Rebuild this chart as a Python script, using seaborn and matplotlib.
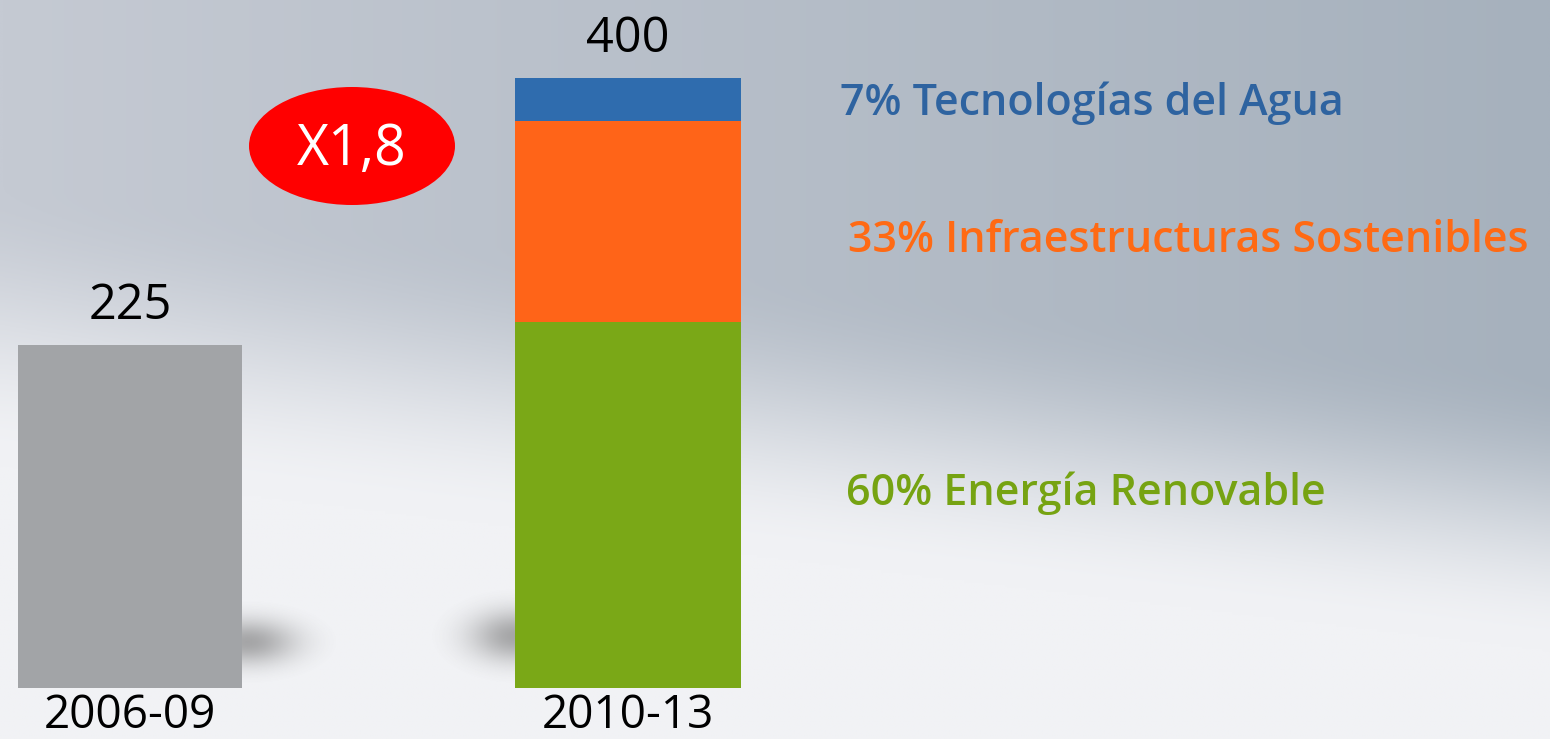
import numpy as np
import pandas as pd
import seaborn as sns
from matplotlib import pyplot as plt
from matplotlib.patches import Ellipse

# ---------- DATOS ----------
periodos = ['2006-09', '2010-13']
total_anterior = 225
total_nuevo = 400
segmentos = ['Energía Renovable', 'Infraestructuras Sostenibles', 'Tecnologías del Agua']
porcentajes = [60, 33, 7]
multiplicador = 'X1,8'

colores = ['#7aa817', '#ff6418', '#2f6cae']
colores_texto = ['#76a312', '#ff6a14', '#2e63a0']
gris = '#a2a4a7'

# valores de cada tramo y acumulados (para apilar)
valores = [total_nuevo * p / 100 for p in porcentajes]
acumulados = np.cumsum(valores)

sns.set_theme(style='white')
plt.rcParams['font.family'] = ['Open Sans', 'DejaVu Sans']

fig = plt.figure(figsize=(15.5, 7.39), dpi=100)
ax = fig.add_axes([0, 0, 1, 1])

xlim = (-0.261, 2.851)
ylim = (-33.4, 451)

# fondo degradado
esq_izq, esq_der = np.array([197, 202, 211]) / 255, np.array([166, 177, 189]) / 255
abajo = np.array([241, 242, 245]) / 255
ty = np.linspace(0, 1, 300)[:, None, None]
tx = np.linspace(0, 1, 300)[None, :, None]
arriba = esq_izq * (1 - tx) + esq_der * tx
inicio = 0.25 + 0.25 * tx
t = np.clip((ty - inicio) / 0.38, 0, 1)
t = t * t * (3 - 2 * t)
fondo = arriba * (1 - t) + abajo * t
ax.imshow(fondo, extent=(xlim[0], xlim[1], ylim[0], ylim[1]), aspect='auto', zorder=0)

# sombras suaves en la base de las barras (sin bordes visibles)
gx = np.linspace(-1, 1, 160)[None, :]
gy = np.linspace(-1, 1, 100)[:, None]
r2 = np.clip(gx ** 2 + gy ** 2, 0, 1)
alfa = (np.exp(-3.5 * r2) - np.exp(-3.5)) / (1 - np.exp(-3.5))
sombra = np.zeros((100, 160, 4))
sombra[..., :3] = 0.35
sombra[..., 3] = alfa * 0.5
ax.imshow(sombra, extent=(0.05, 0.42, 2, 58), aspect='auto', zorder=1)
ax.imshow(sombra, extent=(0.6, 0.95, 2, 66), aspect='auto', zorder=1)

# barras
sns.barplot(x=[periodos[0]], y=[total_anterior], order=periodos, color=gris,
            width=0.45, saturation=1, linewidth=0, ax=ax, zorder=2)
for val, col in zip(acumulados[::-1], colores[::-1]):
    sns.barplot(x=[periodos[1]], y=[val], order=periodos, color=col,
                width=0.455, saturation=1, linewidth=0, ax=ax, zorder=2)

ax.set_xlim(*xlim)
ax.set_ylim(*ylim)
ax.axis('off')

# etiquetas de totales y periodos
for i, tot in enumerate([total_anterior, total_nuevo]):
    ax.text(i, tot + 17, str(tot), ha='center', va='baseline', fontsize=35, color='black', zorder=3)
    ax.text(i, -26, periodos[i], ha='center', va='baseline', fontsize=33, color='black', zorder=3)

# etiquetas de segmentos
pos_y = [493, 241, 103]
pos_x = [846, 848, 840]
for seg, p, c, x, y in zip(segmentos, porcentajes, colores_texto, pos_x, pos_y):
    ax.text(x / 1550, 1 - y / 739, f'{p}% {seg}', transform=ax.transAxes, ha='left', va='center',
            fontsize=31, fontweight='semibold', color=c, zorder=3)

# óvalo rojo con el multiplicador
ax.add_patch(Ellipse((352 / 1550, 1 - 146 / 739), 206 / 1550, 118 / 739, transform=ax.transAxes,
                     facecolor='#ff0000', edgecolor='none', zorder=3))
ax.text(352 / 1550, 1 - 150 / 739, multiplicador, transform=ax.transAxes, ha='center', va='center',
        fontsize=40, color='white', zorder=4)

fig.savefig('out.png', dpi=100)
